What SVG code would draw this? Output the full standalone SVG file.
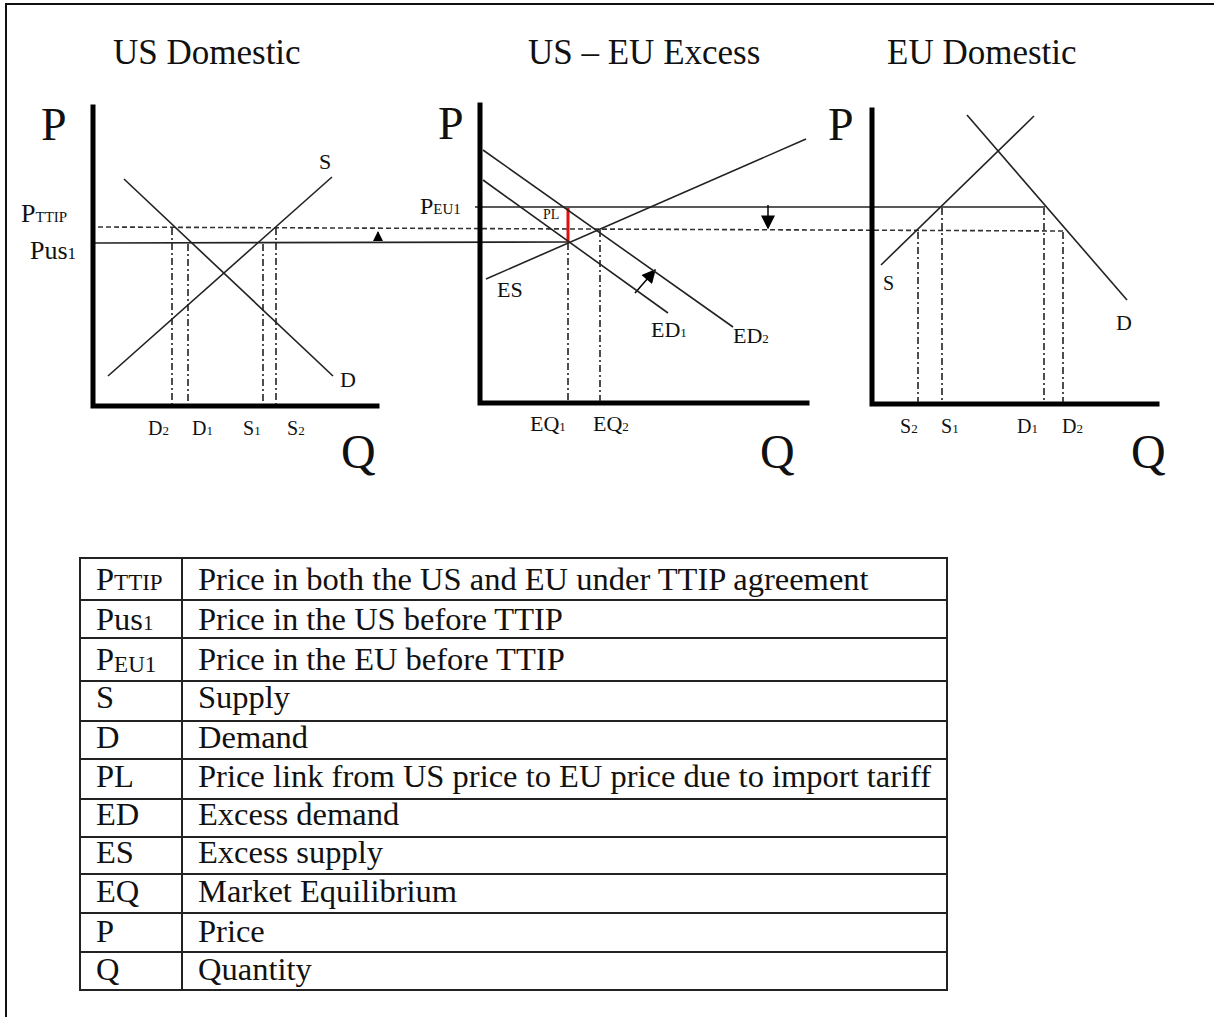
<svg xmlns="http://www.w3.org/2000/svg" width="1214" height="1017" viewBox="0 0 1214 1017">
<style>
text{font-family:"Liberation Serif","Times New Roman",serif;fill:#111}
.title{font-size:35px}
.axl{font-size:46px}
.q{font-size:48px}
.lbl{font-size:22px}
.tick{font-size:20px}
.sub{font-size:13px}
.tbl{font-size:32.5px}
.axis{stroke:#000;stroke-width:5;fill:none;stroke-linecap:square}
.crv{stroke:#222;stroke-width:1.6;fill:none}
.dash{stroke:#333;stroke-width:1.6;stroke-dasharray:5 3;fill:none}
.dd{stroke:#222;stroke-width:1.6;stroke-dasharray:7 3 2 3;fill:none}
.grid{stroke:#222;stroke-width:2;fill:none}
</style>
<defs>
<marker id="ah" viewBox="0 0 10 10" refX="9" refY="5" markerWidth="10" markerHeight="10" markerUnits="userSpaceOnUse" orient="auto">
<path d="M0,0 L10,5 L0,10 z" fill="#000"/>
</marker>
<marker id="ahb" viewBox="0 0 10 10" refX="9" refY="5" markerWidth="16" markerHeight="14" markerUnits="userSpaceOnUse" orient="auto">
<path d="M0,0 L10,5 L0,10 z" fill="#000"/>
</marker>
</defs>
<rect x="0" y="0" width="1214" height="1017" fill="#fff"/>
<path d="M6,1017 V4 H1214" stroke="#111" stroke-width="2" fill="none"/>

<g id="titles">
<text class="title" x="113" y="64">US Domestic</text>
<text class="title" x="528" y="64">US – EU Excess</text>
<text class="title" x="887" y="64">EU Domestic</text>
</g>

<g id="connectors">
<line class="dash" x1="98" y1="227" x2="1063" y2="231"/>
<line class="crv" x1="93" y1="243" x2="568" y2="242"/>
<line class="crv" x1="475" y1="207" x2="1045" y2="207"/>
<line x1="568" y1="208" x2="568" y2="242" stroke="#e01010" stroke-width="3"/>
<line x1="378" y1="241" x2="378" y2="232" stroke="#000" stroke-width="1" marker-end="url(#ah)"/>
<line x1="768" y1="205" x2="768" y2="228" stroke="#000" stroke-width="1.5" marker-end="url(#ahb)"/>
<line x1="635" y1="293" x2="655" y2="270" stroke="#000" stroke-width="1.5" marker-end="url(#ahb)"/>
</g>

<g id="us-domestic">
<path class="axis" d="M93,107 V406 H377"/>
<text class="axl" x="41" y="140">P</text>
<text class="q" x="341" y="468">Q</text>
<line class="crv" x1="108" y1="376" x2="332" y2="177"/>
<line class="crv" x1="124" y1="179" x2="333" y2="376"/>
<text class="lbl" x="319" y="169">S</text>
<text class="lbl" x="340" y="387">D</text>
<text x="21" y="222" font-size="26">P<tspan font-size="15">TTIP</tspan></text>
<text x="30" y="259" font-size="26">Pus<tspan font-size="17">1</tspan></text>
<line class="dd" x1="172" y1="228" x2="172" y2="404"/>
<line class="dd" x1="188" y1="244" x2="188" y2="404"/>
<line class="dd" x1="263" y1="244" x2="263" y2="404"/>
<line class="dd" x1="276" y1="228" x2="276" y2="404"/>
<text class="tick" x="148" y="435">D<tspan class="sub">2</tspan></text>
<text class="tick" x="192" y="435">D<tspan class="sub">1</tspan></text>
<text class="tick" x="243" y="435">S<tspan class="sub">1</tspan></text>
<text class="tick" x="287" y="435">S<tspan class="sub">2</tspan></text>
</g>

<g id="us-eu-excess">
<path class="axis" d="M480,105 V403 H807"/>
<text class="axl" x="438" y="139">P</text>
<text class="q" x="760" y="468">Q</text>
<line class="crv" x1="483" y1="150" x2="733" y2="327"/>
<line class="crv" x1="483" y1="180" x2="668" y2="313"/>
<line class="crv" x1="486" y1="279" x2="806" y2="139"/>
<text x="420" y="214" font-size="24">P<tspan font-size="15">EU1</tspan></text>
<text x="543" y="219" font-size="14">PL</text>
<text class="lbl" x="497" y="297">ES</text>
<text class="lbl" x="651" y="337">ED<tspan class="sub">1</tspan></text>
<text class="lbl" x="733" y="343">ED<tspan class="sub">2</tspan></text>
<line class="dd" x1="568" y1="243" x2="568" y2="401"/>
<line class="dd" x1="600" y1="230" x2="600" y2="401"/>
<text class="lbl" x="530" y="431">EQ<tspan class="sub">1</tspan></text>
<text class="lbl" x="593" y="431">EQ<tspan class="sub">2</tspan></text>
</g>

<g id="eu-domestic">
<path class="axis" d="M872,110 V404 H1157"/>
<text class="axl" x="828" y="140">P</text>
<text class="q" x="1131" y="468">Q</text>
<line class="crv" x1="881" y1="265" x2="1034" y2="116"/>
<line class="crv" x1="967" y1="115" x2="1127" y2="300"/>
<text x="883" y="290" font-size="20">S</text>
<text class="lbl" x="1116" y="330">D</text>
<line class="dd" x1="918" y1="232" x2="918" y2="402"/>
<line class="dd" x1="942" y1="208" x2="942" y2="402"/>
<line class="dd" x1="1044" y1="208" x2="1044" y2="402"/>
<line class="dd" x1="1063" y1="232" x2="1063" y2="402"/>
<text class="tick" x="900" y="433">S<tspan class="sub">2</tspan></text>
<text class="tick" x="941" y="433">S<tspan class="sub">1</tspan></text>
<text class="tick" x="1017" y="433">D<tspan class="sub">1</tspan></text>
<text class="tick" x="1062" y="433">D<tspan class="sub">2</tspan></text>
</g>

<g id="legend-table">
<rect class="grid" x="80" y="558" width="867" height="432"/>
<line class="grid" x1="182" y1="558" x2="182" y2="990"/>
<line class="grid" x1="80" y1="600" x2="947" y2="600"/>
<line class="grid" x1="80" y1="638" x2="947" y2="638"/>
<line class="grid" x1="80" y1="681" x2="947" y2="681"/>
<line class="grid" x1="80" y1="721" x2="947" y2="721"/>
<line class="grid" x1="80" y1="759" x2="947" y2="759"/>
<line class="grid" x1="80" y1="799" x2="947" y2="799"/>
<line class="grid" x1="80" y1="837" x2="947" y2="837"/>
<line class="grid" x1="80" y1="874" x2="947" y2="874"/>
<line class="grid" x1="80" y1="913" x2="947" y2="913"/>
<line class="grid" x1="80" y1="952" x2="947" y2="952"/>
<text class="tbl" x="96" y="590">P<tspan font-size="23">TTIP</tspan></text>
<text class="tbl" x="198" y="590">Price in both the US and EU under TTIP agreement</text>
<text class="tbl" x="96" y="630">Pus<tspan font-size="21">1</tspan></text>
<text class="tbl" x="198" y="630">Price in the US before TTIP</text>
<text class="tbl" x="96" y="670">P<tspan font-size="23" dy="2">EU1</tspan></text>
<text class="tbl" x="198" y="670">Price in the EU before TTIP</text>
<text class="tbl" x="96" y="708">S</text>
<text class="tbl" x="198" y="708">Supply</text>
<text class="tbl" x="96" y="748">D</text>
<text class="tbl" x="198" y="748">Demand</text>
<text class="tbl" x="96" y="787">PL</text>
<text class="tbl" x="198" y="787">Price link from US price to EU price due to import tariff</text>
<text class="tbl" x="96" y="825">ED</text>
<text class="tbl" x="198" y="825">Excess demand</text>
<text class="tbl" x="96" y="863">ES</text>
<text class="tbl" x="198" y="863">Excess supply</text>
<text class="tbl" x="96" y="902">EQ</text>
<text class="tbl" x="198" y="902">Market Equilibrium</text>
<text class="tbl" x="96" y="942">P</text>
<text class="tbl" x="198" y="942">Price</text>
<text class="tbl" x="96" y="980">Q</text>
<text class="tbl" x="198" y="980">Quantity</text>
</g>
</svg>
